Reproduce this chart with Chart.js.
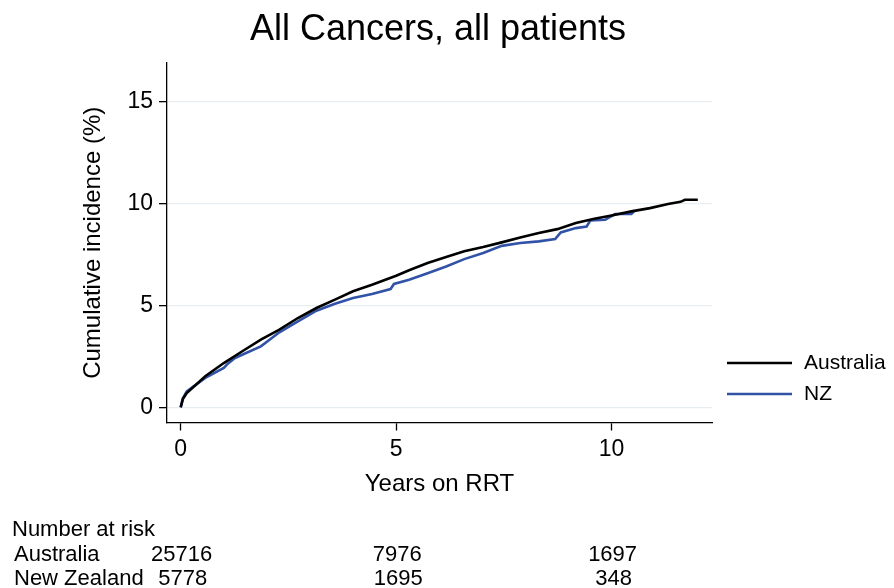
<!DOCTYPE html>
<html lang="en">
<head>
    <meta charset="UTF-8">
    <title>All Cancers, all patients</title>
    <script src="https://cdn.jsdelivr.net/npm/chart.js"></script>
    <style>
        body {
            margin: 0;
            background: #fff;
        }
        canvas {
            display: block;
        }
    </style>
</head>
<body>
    <canvas id="incidenceChart" width="894" height="588"></canvas>

    <script>
        // Cumulative incidence (%), x in years on RRT
        const ausYears = [0, 0.05, 0.14, 0.57, 1.0, 1.43, 1.86, 2.29, 2.72, 3.15, 3.58, 4.0, 4.44, 5.0, 5.3, 5.73, 6.16, 6.58, 7.02, 7.45, 7.88, 8.31, 8.74, 9.17, 9.6, 10.0, 10.46, 10.89, 11.31, 11.6, 11.7, 12.0];
        const ausValues = [0, 0.4, 0.7, 1.52, 2.17, 2.75, 3.32, 3.81, 4.38, 4.87, 5.28, 5.69, 6.01, 6.45, 6.72, 7.08, 7.37, 7.65, 7.86, 8.09, 8.33, 8.55, 8.74, 9.04, 9.25, 9.41, 9.61, 9.77, 9.97, 10.08, 10.18, 10.18];

        const nzYears = [0, 0.05, 0.14, 0.57, 1.0, 1.1, 1.26, 1.86, 2.29, 2.72, 3.15, 3.58, 4.0, 4.44, 4.87, 4.95, 5.3, 5.73, 6.16, 6.58, 7.02, 7.45, 7.88, 8.31, 8.69, 8.82, 9.17, 9.42, 9.51, 9.85, 10.08, 10.46, 10.54];
        const nzValues = [0, 0.45, 0.78, 1.44, 1.93, 2.15, 2.42, 2.99, 3.68, 4.22, 4.74, 5.08, 5.36, 5.56, 5.8, 6.05, 6.26, 6.58, 6.91, 7.27, 7.57, 7.92, 8.06, 8.14, 8.25, 8.58, 8.79, 8.87, 9.17, 9.2, 9.48, 9.48, 9.66];

        const xTicks = [0, 5, 10];
        const yTicks = [0, 5, 10, 15];

        // Number at risk table
        const riskYears = [0, 5, 10];
        const riskAustralia = [25716, 7976, 1697];
        const riskNewZealand = [5778, 1695, 348];

        const chartTitle = 'All Cancers, all patients';
        const FONT = "'Liberation Sans', Arial, sans-serif";

        function toPoints(xs, ys) {
            return xs.map((x, i) => ({ x: x, y: ys[i] }));
        }

        // title, legend at the right and the number-at-risk table under the chart
        const extrasPlugin = {
            id: 'extras',
            afterDraw(chart) {
                const c = chart.ctx;
                const xs = chart.scales.x;
                c.save();
                c.fillStyle = '#000';

                // title, centred on the page
                c.font = '36px ' + FONT;
                c.textAlign = 'center';
                c.textBaseline = 'middle';
                c.fillText(chartTitle, 438, 30);

                // legend
                c.font = '21px ' + FONT;
                c.textAlign = 'left';
                chart.data.datasets.forEach((ds, i) => {
                    const y = 363 + i * 31;
                    c.strokeStyle = ds.borderColor;
                    c.lineWidth = 2.6;
                    c.beginPath();
                    c.moveTo(727, y);
                    c.lineTo(792, y);
                    c.stroke();
                    c.fillText(ds.label, 804, y);
                });

                // number at risk
                c.font = '22px ' + FONT;
                c.textBaseline = 'alphabetic';
                c.fillText('Number at risk', 12, 536);
                c.fillText('Australia', 14, 561);
                c.fillText('New Zealand', 14, 585);
                c.textAlign = 'center';
                riskYears.forEach((yr, i) => {
                    const px = xs.getPixelForValue(yr);
                    c.fillText(String(riskAustralia[i]), px + 1, 561);
                    c.fillText(String(riskNewZealand[i]), px + 2, 585);
                });
                c.restore();
            }
        };

        const ctx = document.getElementById('incidenceChart').getContext('2d');

        new Chart(ctx, {
            type: 'line',
            data: {
                datasets: [{
                    label: 'Australia',
                    data: toPoints(ausYears, ausValues),
                    borderColor: '#000000',
                    borderWidth: 2.6,
                    pointRadius: 0,
                    tension: 0
                }, {
                    label: 'NZ',
                    data: toPoints(nzYears, nzValues),
                    borderColor: '#3152a6',
                    borderWidth: 2.6,
                    pointRadius: 0,
                    tension: 0
                }]
            },
            options: {
                responsive: false,
                animation: false,
                layout: {
                    padding: { left: 0, right: 182, top: 63, bottom: 0 }
                },
                scales: {
                    x: {
                        type: 'linear',
                        min: -0.318,
                        max: 12.33,
                        afterBuildTicks: s => { s.ticks = xTicks.map(v => ({ value: v })); },
                        afterFit: s => { s.height = 165.5; },
                        ticks: {
                            color: '#000',
                            padding: 5,
                            maxRotation: 0,
                            font: { family: FONT, size: 23 }
                        },
                        grid: {
                            drawOnChartArea: false,
                            tickColor: '#000',
                            tickLength: 8,
                            tickWidth: 1.3
                        },
                        border: { color: '#000', width: 1.3 },
                        title: {
                            display: true,
                            text: 'Years on RRT',
                            color: '#000',
                            font: { family: FONT, size: 24 },
                            padding: { top: 0, bottom: 89.6 }
                        }
                    },
                    y: {
                        min: -0.746,
                        max: 16.89,
                        afterBuildTicks: s => { s.ticks = yTicks.map(v => ({ value: v })); },
                        afterFit: s => { s.width = 167; },
                        ticks: {
                            color: '#000',
                            padding: 6,
                            font: { family: FONT, size: 23 }
                        },
                        grid: {
                            color: '#e6eef1',
                            lineWidth: 1.3,
                            tickColor: '#000',
                            tickLength: 8,
                            tickWidth: 1.3
                        },
                        border: { color: '#000', width: 1.3 },
                        title: {
                            display: true,
                            text: 'Cumulative incidence (%)',
                            color: '#000',
                            font: { family: FONT, size: 24 },
                            padding: { top: 79, bottom: 0 }
                        }
                    }
                },
                plugins: {
                    legend: { display: false },
                    tooltip: { enabled: false },
                    title: { display: false }
                }
            },
            plugins: [extrasPlugin]
        });
    </script>
</body>
</html>
